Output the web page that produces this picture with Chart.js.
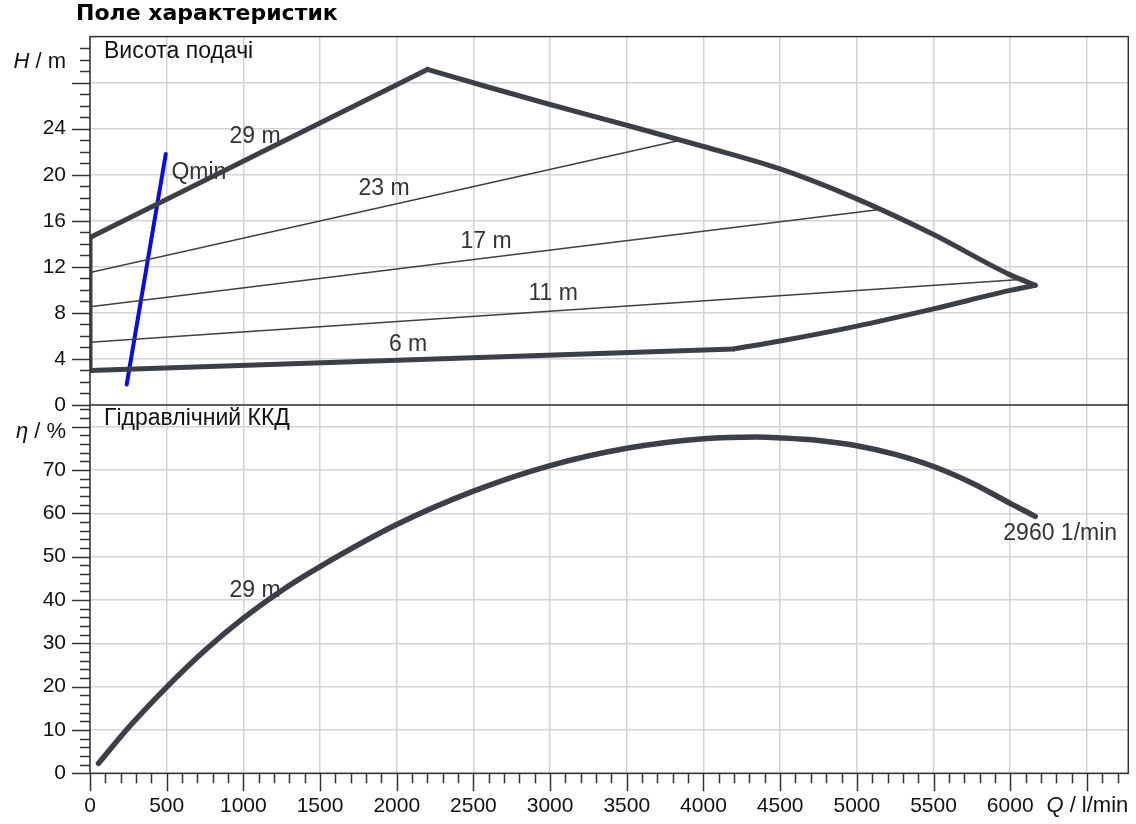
<!DOCTYPE html>
<html>
<head>
<meta charset="utf-8">
<script src="https://cdn.jsdelivr.net/npm/chart.js@4.4.1/dist/chart.umd.min.js"></script>
<style>
  html, body { margin: 0; padding: 0; background: #fff; }
  canvas { display: block; }
</style>
</head>
<body>
<canvas id="chartField" width="1136" height="824"></canvas>
<script>
/* ═══════════════════════════════════════════
   PUMP CHARACTERISTIC FIELD
   Q in l/min, H in m, eta in %
═══════════════════════════════════════════ */

// Envelope of the field (max speed curve and min curve)
const leftEdgeQ = [0, 0];
const leftEdgeH = [3.0, 14.55];
const riseQ = [0, 2200];
const riseH = [14.55, 29.15];
const maxCurveQ = [2200, 2600, 3000, 3500, 4000, 4500, 5000, 5500, 6000, 6163];
const maxCurveH = [29.15, 27.6, 26.1, 24.3, 22.45, 20.5, 17.9, 14.8, 11.3, 10.4];
const minLineQ = [0, 4200];
const minLineH = [3.0, 4.87];
const minCurveQ = [4200, 4500, 5000, 5500, 6000, 6163];
const minCurveH = [4.87, 5.55, 6.85, 8.35, 9.95, 10.4];

// Setpoint lines inside the field
const line23Q = [0, 3848];
const line23H = [11.5, 23.0];
const line17Q = [0, 5163];
const line17H = [8.53, 17.0];
const line11Q = [0, 6065];
const line11H = [5.44, 10.9];

// Qmin line
const qminQ = [239, 494];
const qminH = [1.77, 21.8];

// Hydraulic efficiency at 29 m
const etaQ = [56, 250, 500, 750, 1000, 1250, 1500, 2000, 2500, 3000, 3500, 4000, 4350, 4500, 4750, 5000, 5250, 5500, 5750, 6000, 6163];
const etaVal = [2.3, 10.5, 19.9, 28.4, 35.8, 42.2, 47.7, 57.4, 65.1, 71.0, 75.0, 77.2, 77.6, 77.4, 76.8, 75.6, 73.6, 70.8, 67.0, 62.3, 59.3];

// Axis ranges and labelled ticks
const qMax = 6770;
const hMax = 32;
const etaMax = 85;
const qTicks = [0, 500, 1000, 1500, 2000, 2500, 3000, 3500, 4000, 4500, 5000, 5500, 6000, 6500];
const hTicks = [0, 4, 8, 12, 16, 20, 24, 28];
const etaTicks = [0, 10, 20, 30, 40, 50, 60, 70, 80];

// Curve labels (anchored in data units)
const headLabels = [
    { text: '29 m', q: 1076, v: 23.3 },
    { text: 'Qmin', q: 710, v: 20.2 },
    { text: '23 m', q: 1917, v: 18.8 },
    { text: '17 m', q: 2583, v: 14.2 },
    { text: '11 m', q: 3020, v: 9.66 },
    { text: '6 m', q: 2074, v: 5.24 }
];
const etaLabels = [
    { text: '29 m', q: 1076, v: 42.2 },
    { text: '2960 1/min', q: 6326, v: 55.2 }
];

const FONT = "'Liberation Sans', Arial, sans-serif";
const INK = '#3a4049';
const GRID = '#d3d3d3';

function pts(xs, ys) {
    return xs.map((x, i) => ({ x: x, y: ys[i] }));
}

function headSet(xs, ys, width, smooth) {
    return {
        data: pts(xs, ys),
        yAxisID: 'H',
        borderColor: INK,
        borderWidth: width,
        pointRadius: 0,
        borderCapStyle: 'round',
        borderJoinStyle: 'round',
        cubicInterpolationMode: smooth ? 'monotone' : 'default',
        tension: 0
    };
}

/**
 * Frame, minor/major ticks, axis titles and text labels
 */
const fieldDecor = {
    id: 'fieldDecor',
    beforeDatasetsDraw(chart) {
        const ctx = chart.ctx;
        const x = chart.scales.x;
        ctx.save();
        ctx.fillStyle = '#333';
        ctx.font = '23px ' + FONT;
        ctx.textAlign = 'center';
        ctx.textBaseline = 'middle';
        headLabels.forEach(l => {
            ctx.fillText(l.text, x.getPixelForValue(l.q), chart.scales.H.getPixelForValue(l.v));
        });
        etaLabels.forEach(l => {
            ctx.fillText(l.text, x.getPixelForValue(l.q), chart.scales.eta.getPixelForValue(l.v));
        });
        ctx.restore();
    },
    afterDraw(chart) {
        const ctx = chart.ctx;
        const a = chart.chartArea;
        const x = chart.scales.x;
        const H = chart.scales.H;
        const eta = chart.scales.eta;

        ctx.save();
        ctx.strokeStyle = '#333';
        ctx.lineWidth = 1.5;

        // tick marks (minor every 100 l/min, 1 m, 2 %)
        ctx.beginPath();
        for (let q = 0; q < qMax; q += 100) {
            const px = Math.round(x.getPixelForValue(q)) + 0.5;
            const len = q % 500 === 0 ? 18 : 10;
            ctx.moveTo(px, a.bottom);
            ctx.lineTo(px, a.bottom + len);
        }
        for (let h = 0; h < hMax; h += 1) {
            const py = Math.round(H.getPixelForValue(h)) + 0.5;
            const len = h % 4 === 0 ? 18 : 10;
            ctx.moveTo(a.left - len, py);
            ctx.lineTo(a.left, py);
        }
        for (let e = 0; e < etaMax; e += 2) {
            const py = Math.round(eta.getPixelForValue(e)) + 0.5;
            const len = e % 10 === 0 ? 18 : 10;
            ctx.moveTo(a.left - len, py);
            ctx.lineTo(a.left, py);
        }
        ctx.stroke();

        // frame + panel divider
        ctx.strokeRect(a.left, a.top, a.right - a.left, a.bottom - a.top);
        const yDiv = H.getPixelForValue(0);
        ctx.beginPath();
        ctx.moveTo(a.left, yDiv);
        ctx.lineTo(a.right, yDiv);
        ctx.stroke();

        // panel captions
        ctx.fillStyle = '#111';
        ctx.font = '23px ' + FONT;
        ctx.textAlign = 'left';
        ctx.textBaseline = 'middle';
        ctx.fillText('Висота подачі', a.left + 14, a.top + 15);
        ctx.fillText('Гідравлічний ККД', a.left + 14, yDiv + 14);

        // axis titles with italic symbol
        function unitTitle(sym, rest, rightX, y) {
            ctx.font = '22px ' + FONT;
            const wRest = ctx.measureText(rest).width;
            ctx.font = 'italic 22px ' + FONT;
            const wSym = ctx.measureText(sym).width;
            ctx.textAlign = 'left';
            ctx.fillText(sym, rightX - wRest - wSym, y);
            ctx.font = '22px ' + FONT;
            ctx.fillText(rest, rightX - wRest, y);
        }
        unitTitle('H', ' / m', a.left - 24, 62);
        unitTitle('η', ' / %', a.left - 24, 432);
        unitTitle('Q', ' / l/min', a.right, 806);

        // chart title
        ctx.font = "bold 22px 'DejaVu Sans', Verdana, sans-serif";
        ctx.fillStyle = '#000';
        ctx.textAlign = 'left';
        ctx.fillText('Поле характеристик', 76, 14);
        ctx.restore();
    }
};

const tickFont = { family: FONT, size: 21 };

function axisTicks(lastLabel, padding) {
    return {
        autoSkip: false,
        maxRotation: 0,
        padding: padding,
        color: '#111',
        font: tickFont,
        callback: v => (v > lastLabel ? '' : v)
    };
}

const fieldChart = new Chart(document.getElementById('chartField'), {
    type: 'line',
    data: {
        datasets: [
            headSet(leftEdgeQ, leftEdgeH, 5, false),
            headSet(riseQ, riseH, 5, false),
            headSet(maxCurveQ, maxCurveH, 5, true),
            headSet(minLineQ, minLineH, 5, false),
            headSet(minCurveQ, minCurveH, 5, true),
            headSet(line23Q, line23H, 1.5, false),
            headSet(line17Q, line17H, 1.5, false),
            headSet(line11Q, line11H, 1.5, false),
            {
                data: pts(qminQ, qminH),
                yAxisID: 'H',
                borderColor: '#0a0af0',
                borderWidth: 4,
                pointRadius: 0,
                borderCapStyle: 'round'
            },
            {
                data: pts(etaQ, etaVal),
                yAxisID: 'eta',
                borderColor: INK,
                borderWidth: 5.5,
                pointRadius: 0,
                borderCapStyle: 'round',
                cubicInterpolationMode: 'monotone'
            }
        ]
    },
    options: {
        responsive: false,
        animation: false,
        events: [],
        layout: { padding: { top: 35.5, right: 7.7, left: 0, bottom: 0 } },
        plugins: {
            legend: { display: false },
            tooltip: { enabled: false }
        },
        scales: {
            x: {
                type: 'linear',
                min: 0,
                max: qMax,
                border: { display: false },
                grid: { color: GRID, lineWidth: 1.5, drawTicks: false },
                afterBuildTicks: s => { s.ticks = qTicks.map(v => ({ value: v })); },
                afterFit: s => { s.height = 50.7; s.paddingRight = 0; s.paddingLeft = 0; },
                ticks: axisTicks(6000, 20)
            },
            eta: {
                type: 'linear',
                position: 'left',
                stack: 'panels',
                stackWeight: 1,
                min: 0,
                max: etaMax,
                border: { display: false },
                grid: { color: GRID, lineWidth: 1.5, drawTicks: false },
                afterBuildTicks: s => { s.ticks = etaTicks.map(v => ({ value: v })); },
                afterFit: s => { s.width = 90; },
                ticks: axisTicks(70, 24)
            },
            H: {
                type: 'linear',
                position: 'left',
                stack: 'panels',
                stackWeight: 1,
                weight: 1,
                min: 0,
                max: hMax,
                border: { display: false },
                grid: { color: GRID, lineWidth: 1.5, drawTicks: false },
                afterBuildTicks: s => { s.ticks = hTicks.map(v => ({ value: v })); },
                afterFit: s => { s.width = 90; },
                ticks: axisTicks(24, 24)
            }
        }
    },
    plugins: [fieldDecor]
});
</script>
</body>
</html>
